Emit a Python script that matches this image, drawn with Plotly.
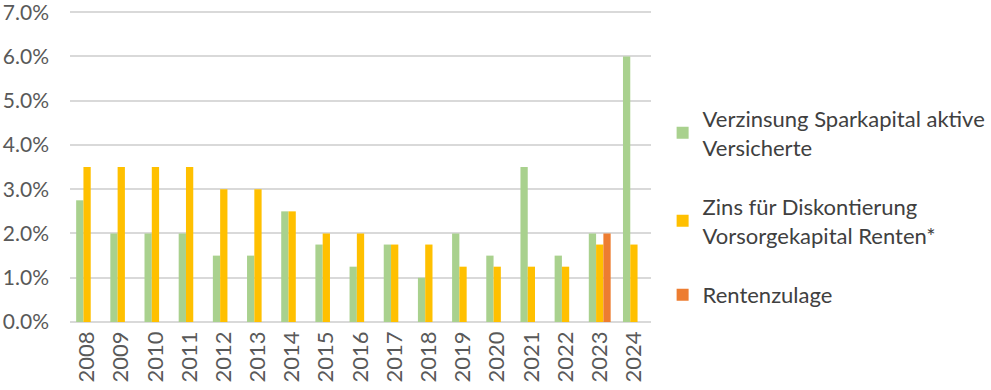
import plotly.graph_objects as go

years = [str(y) for y in range(2008, 2025)]
verzinsung = [2.75, 2.0, 2.0, 2.0, 1.5, 1.5, 2.5, 1.75, 1.25, 1.75, 1.0, 2.0, 1.5, 3.5, 1.5, 2.0, 6.0]
zins = [3.5, 3.5, 3.5, 3.5, 3.0, 3.0, 2.5, 2.0, 2.0, 1.75, 1.75, 1.25, 1.25, 1.25, 1.25, 1.75, 1.75]
rentenzulage = [None] * 15 + [2.0, None]

names = ["Verzinsung Sparkapital aktive<br>Versicherte",
         "Zins für Diskontierung<br>Vorsorgekapital Renten*",
         "Rentenzulage"]
colors = ["#A9D18E", "#FFC000", "#ED7D31"]

fig = go.Figure()
for i, (vals, name, col) in enumerate(zip([verzinsung, zins, rentenzulage], names, colors)):
    fig.add_trace(go.Bar(x=years, y=vals, name=name, marker_color=col,
                         marker_line_width=0, legendgroup=str(i)))

font_family = "Lato, Open Sans, sans-serif"
fig.update_layout(
    width=991, height=390,
    margin=dict(l=70, r=340, t=10, b=68, autoexpand=False),
    plot_bgcolor="white", paper_bgcolor="white",
    barmode="group", bargap=0.36, bargroupgap=0,
    font=dict(family=font_family, size=22, color="#595959"),
    legend=dict(x=1.02, xanchor="left", y=0.37, yanchor="middle",
                font=dict(size=22, color="#404040"), tracegroupgap=28,
                itemwidth=30),
    xaxis=dict(type="category", tickangle=-90, showgrid=False, showline=False,
               ticks="", automargin=False, ticklabelstandoff=4,
               ticklabeloverflow="allow"),
    yaxis=dict(range=[0, 7.05], tickmode="linear", tick0=0, dtick=1,
               tickformat=".1f", ticksuffix="%",
               showgrid=True, gridcolor="#D9D9D9", gridwidth=2,
               zeroline=True, zerolinecolor="#D9D9D9", zerolinewidth=2,
               showline=False, ticks="", automargin=False, ticklabelstandoff=20,
               ticklabeloverflow="allow", tickfont=dict(size=21)),
)
fig.write_html("out.html", config={"displayModeBar": False},
               post_script="document.body.style.margin='0';document.body.style.overflow='hidden';")
